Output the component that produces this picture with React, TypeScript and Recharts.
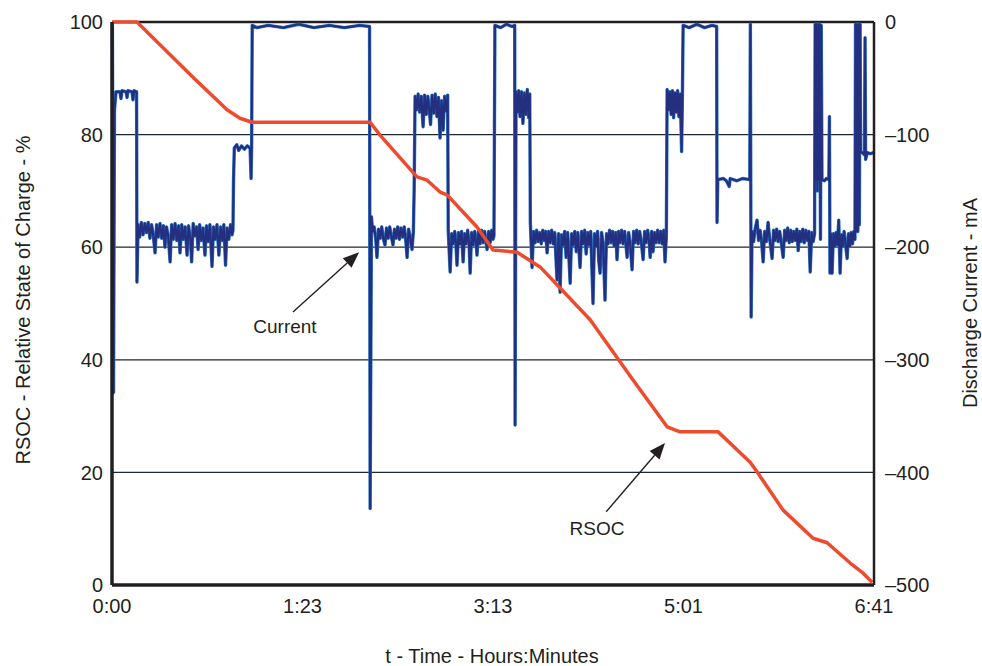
import React from 'react';
import { ComposedChart, Line, XAxis, YAxis, ReferenceLine, ReferenceDot } from 'recharts';

// ---- axes / ticks ----
const xTickValues = [0, 100, 200, 300, 400];
const xTickLabels = ['0:00', '1:23', '3:13', '5:01', '6:41'];
const rsocTicks = [0, 20, 40, 60, 80, 100];
const currentTicks = [-500, -400, -300, -200, -100, 0];
const gridLevels = [20, 40, 60, 80];

// ---- RSOC (%) : [time position, value] ----
const rsocTrace: [number, number][] = [
  [0, 100], [13.1, 100], [42.5, 90.2], [60.4, 84.4], [67.2, 82.9], [73.5, 82.2],
  [135.5, 82.2], [140.7, 79.9], [160.1, 72.5], [165.4, 71.9], [172.2, 69.8], [175.9, 69.3],
  [191.6, 63.6], [200, 59.5], [212.6, 59.1], [224.7, 56.5], [251, 47.1], [273.5, 36.4],
  [291.4, 28.1], [298.2, 27.2], [318.2, 27.2], [335, 21.8], [338.6, 20.1], [352.3, 13.3],
  [368, 8.3], [375.4, 7.5], [387.5, 3.9], [394.3, 2.1], [399, 0.5],
];

// ---- Discharge current (mA) : [time position, value] ----
const currentStart: [number, number][] = [
  [0.2, -2], [0.8, -329], [1.3, -78], [2.1, -62], [4.2, -62], [4.7, -68], [5.3, -61], [7.4, -62],
  [7.9, -67], [8.4, -61], [10.5, -62], [11, -69], [11.6, -61], [12.9, -62], [13.1, -231], [13.7, -180],
];
const currentBand1: [number, number][] = [
  [14.5, -191], [15.4, -178], [16.3, -189], [17.2, -179], [18.1, -187], [19, -178], [19.9, -192], [20.8, -180],
  [21.7, -190], [22.6, -205], [23.4, -180], [24.3, -191], [25.2, -179], [26.1, -192], [27, -181], [27.8, -200],
  [28.6, -182], [29.5, -190], [30.5, -213], [31.3, -180], [32.2, -193], [33.1, -179], [34, -194], [34.9, -181],
  [35.7, -205], [36.6, -180], [37.5, -193], [38.4, -182], [39.4, -207], [40.2, -181], [41.1, -192], [41.8, -213],
  [42.6, -179], [43.5, -190], [44.4, -182], [45.2, -202], [46, -180], [46.9, -194], [47.8, -183], [48.8, -207],
  [49.6, -181], [50.5, -195], [51.4, -180], [52.5, -217], [53.3, -182], [54.2, -193], [55.1, -180], [56.1, -207],
  [57, -182], [57.9, -194], [58.7, -180], [59.6, -216], [60.4, -183], [61.3, -193], [62.2, -180], [63, -189],
  [63.5, -185],
];
const currentMid1: [number, number][] = [
  [63.8, -140], [64.2, -112], [65.5, -109], [66.5, -114], [68, -110], [69.5, -113], [71, -110], [72.5, -112],
  [73, -139], [73.3, -111], [73.6, -3], [76, -5], [82, -3], [90, -5], [98, -2], [106, -5], [114, -3],
  [122, -5], [130, -3], [135.2, -4], [135.5, -432], [136.2, -173], [136.8, -186],
];
const currentBand2: [number, number][] = [
  [137.6, -182], [138.4, -192], [139.1, -209], [139.9, -184], [140.8, -192], [141.6, -182], [142.5, -193],
  [143.3, -198], [144.1, -183], [145, -192], [145.8, -182], [146.7, -191], [147.5, -198], [148.3, -184],
  [149.2, -192], [150, -182], [150.9, -193], [151.7, -183], [152.6, -191], [153.4, -182], [154.2, -194],
  [154.9, -209], [155.7, -184], [156.6, -192], [157.5, -202], [158.2, -186],
];
const currentBand3: [number, number][] = [
  [158.6, -150], [159.1, -66], [159.9, -78], [160.7, -64], [161.5, -80], [162.4, -66], [163.3, -93], [164.1, -65],
  [165, -82], [165.8, -66], [166.6, -79], [167.2, -91], [168, -65], [168.9, -81], [169.7, -64], [170.6, -84],
  [171.4, -67], [172.2, -103], [173, -70], [173.8, -96], [174.6, -66], [175.5, -79], [176.2, -65], [176.5, -185],
];
const currentBand4: [number, number][] = [
  [177.5, -222], [178.3, -188], [179.1, -197], [179.9, -186], [180.5, -196], [181.1, -216], [181.9, -187],
  [182.7, -197], [183.5, -186], [184.3, -213], [185.1, -188], [185.9, -197], [186.7, -185], [187.4, -196],
  [188, -223], [188.8, -187], [189.6, -198], [190.4, -186], [191.1, -196], [191.6, -207], [192.4, -186],
  [193.2, -197], [194, -185], [194.8, -196], [195.6, -186], [196.4, -197], [196.9, -202], [197.7, -186],
  [198.5, -196], [199.3, -185], [200, -193], [200.5, -190],
];
const currentMid2: [number, number][] = [
  [201, -3], [204, -5], [207, -2], [210, -4], [211.4, -3], [211.6, -358], [212.1, -62],
  [212.8, -80], [213.5, -61], [214.2, -84], [215, -62], [215.7, -90], [216.5, -63], [217.2, -82], [218, -60],
  [218.7, -85], [219.3, -64], [219.6, -178],
];
const currentBand6: [number, number][] = [
  [220.5, -218], [221.3, -186], [222.1, -196], [222.9, -185], [223.7, -195], [224.5, -187], [225.3, -197],
  [226.1, -185], [226.9, -194], [227.6, -186], [228.4, -205], [229.2, -186], [230, -196], [230.8, -185],
  [231.6, -197], [232.4, -187], [233.6, -229], [234.4, -188], [235.2, -240], [236, -189], [236.8, -198],
  [237.6, -186], [238.4, -209], [239.2, -187], [240.5, -232], [241.3, -188], [242.1, -198], [242.9, -186],
  [243.7, -204], [244.5, -187], [245.7, -218], [246.5, -186], [247.3, -197], [248.1, -185], [248.9, -206],
  [249.7, -187], [250.5, -198], [251.3, -186], [252.5, -250], [253.3, -188], [254.1, -199], [254.9, -186],
  [255.5, -212], [256.2, -223], [257, -187], [257.8, -197], [258.8, -247], [259.6, -188], [260.4, -197],
  [261.2, -185], [262, -196], [262.8, -186], [263.6, -199], [264.4, -187], [265.1, -211], [265.9, -186],
  [266.7, -196], [267.5, -185], [268.3, -197], [269.1, -186], [270.4, -209], [271.2, -187], [272, -197],
  [273, -220], [273.8, -186], [274.6, -196], [275.4, -185], [276.2, -197], [277, -186], [277.8, -195],
  [278.8, -211], [279.6, -186], [280.4, -196], [281.2, -185], [282, -196], [282.5, -209], [283.3, -186],
  [284, -204], [284.8, -187], [285.6, -196], [286.4, -185], [287.2, -196], [288, -186], [288.8, -197],
  [289.6, -185], [290.3, -213], [291, -190],
];
const currentMid3: [number, number][] = [
  [291.4, -60], [292.1, -78], [292.8, -62], [293.5, -82], [294.2, -61], [294.8, -85], [295.5, -63], [296.2, -80],
  [296.9, -61], [297.6, -84], [298.3, -64], [299, -115], [299.4, -70], [299.8, -3],
  [303, -5], [307, -2], [311, -5], [315, -3], [317.4, -4], [317.6, -178], [318, -140],
  [321, -139], [322.5, -141], [324, -146], [324.5, -139], [328, -141], [331, -139], [334.8, -140],
  [335.1, -2], [335.5, -262], [336, -186],
];
const currentBand8: [number, number][] = [
  [336.8, -195], [337.6, -184], [338.6, -176], [339.4, -194], [340.2, -185], [341, -195], [341.8, -213],
  [342.6, -186], [343.5, -195], [344.4, -178], [345.2, -192], [346.5, -210], [347.3, -185], [348.1, -194],
  [348.9, -184], [349.7, -195], [350.5, -186], [351.3, -196], [352.3, -209], [353.1, -185], [353.9, -194],
  [354.7, -183], [355.5, -196], [356.3, -185], [357.1, -195], [357.9, -186], [358.7, -194], [359.5, -184],
  [360.2, -203], [361, -186], [361.8, -195], [362.6, -184], [363.4, -196], [364.2, -185], [365, -194],
  [365.8, -186], [366.5, -222], [367.3, -187], [368.1, -195], [368.8, -188],
];
const currentEnd: [number, number][] = [
  [369.1, -2], [369.5, -140], [369.9, -2], [370.3, -150], [370.7, -2], [371.1, -140], [371.5, -2], [371.9, -193],
  [372.3, -3], [372.7, -140], [374, -141], [375, -139], [376.3, -140], [376.6, -84], [376.9, -223], [377.3, -188],
  [378, -223], [378.7, -188], [379.4, -199], [380.1, -187], [380.8, -198], [381.5, -176], [382.2, -223],
  [382.9, -189], [383.6, -199], [384.3, -186], [385.1, -198], [385.9, -210], [386.6, -188], [387.3, -199],
  [388, -187], [388.7, -197], [389.4, -186], [390, -193],
  [390.3, -2], [390.7, -186], [391.1, -2], [391.5, -186], [391.9, -2], [392.3, -180], [392.7, -2], [393, -116],
  [394, -116], [395, -118], [395.3, -14], [395.6, -122], [396.5, -116], [398, -117], [399.6, -116],
];

// ---- annotations ----
const currentArrow = [{ x: 95, y: 48.5 }, { x: 129.7, y: 59.1 }];
const rsocArrow = [{ x: 259.4, y: 13 }, { x: 290.3, y: 25.2 }];
const currentLabelPos = { x: 90.8, y: 46, text: 'Current' };
const rsocLabelPos = { x: 254.6, y: 10.1, text: 'RSOC' };

const rsocData = rsocTrace.map(([t, v]) => ({ t, rsoc: v }));
const currentData = [
  ...currentStart, ...currentBand1, ...currentMid1, ...currentBand2, ...currentBand3, ...currentBand4,
  ...currentMid2, ...currentBand6, ...currentMid3, ...currentBand8, ...currentEnd,
].map(([t, v]) => ({ t, current: v }));

const INK = '#231f20';
const FONT = '"Liberation Sans", Arial, sans-serif';
const tickStyle = { fill: INK, fontSize: 20, fontFamily: FONT };

const Arrow = (props: any) => {
  const { x1, y1, x2, y2 } = props;
  const dx = x2 - x1;
  const dy = y2 - y1;
  const len = Math.hypot(dx, dy) || 1;
  const ux = dx / len;
  const uy = dy / len;
  const L = 16;
  const W = 6.5;
  const bx = x2 - ux * L;
  const by = y2 - uy * L;
  const pts = `${x2},${y2} ${bx - uy * W},${by + ux * W} ${bx + uy * W},${by - ux * W}`;
  return (
    <g>
      <line x1={x1} y1={y1} x2={bx} y2={by} stroke={INK} strokeWidth={1.4} />
      <polygon points={pts} fill={INK} />
    </g>
  );
};

const makeText = (text: string) => (p: any) => (
  <text x={p.cx} y={p.cy} textAnchor="middle" dominantBaseline="central" fill={INK} fontSize={19} fontFamily={FONT}>
    {text}
  </text>
);

const titleBase: React.CSSProperties = {
  position: 'absolute',
  color: INK,
  fontSize: 20,
  fontFamily: FONT,
  whiteSpace: 'nowrap',
  lineHeight: 1,
};

export default function App() {
  return (
    <div style={{ position: 'absolute', left: 0, top: 0, width: 982, height: 666, background: '#fff' }}>
      <ComposedChart width={982} height={666} margin={{ top: 22, right: 0, bottom: 0, left: 0 }}>
        <XAxis
          dataKey="t"
          type="number"
          domain={[0, 400]}
          ticks={xTickValues}
          tickFormatter={(v: number) => xTickLabels[xTickValues.indexOf(v)] ?? ''}
          tickLine={false}
          tickMargin={8}
          axisLine={{ stroke: INK, strokeWidth: 3.5 }}
          tick={tickStyle}
          height={81}
          interval={0}
          allowDuplicatedCategory={false}
        />
        <YAxis
          yAxisId="left"
          orientation="left"
          type="number"
          domain={[0, 100]}
          ticks={rsocTicks}
          tickLine={false}
          tickMargin={3}
          axisLine={{ stroke: INK, strokeWidth: 3.5 }}
          tick={tickStyle}
          width={112}
          interval={0}
        />
        <YAxis
          yAxisId="right"
          orientation="right"
          type="number"
          domain={[-500, 0]}
          ticks={currentTicks}
          tickFormatter={(v: number) => String(v).replace('-', '\u2013')}
          tickLine={false}
          tickMargin={5}
          axisLine={{ stroke: INK, strokeWidth: 2.5 }}
          tick={{ ...tickStyle, textAnchor: 'start' }}
          width={108}
          interval={0}
        />
        {gridLevels.map((g) => (
          <ReferenceLine key={g} yAxisId="left" y={g} stroke="#1c2730" strokeWidth={1.3} />
        ))}
        <ReferenceLine yAxisId="left" y={100} stroke={INK} strokeWidth={2.5} />
        <Line
          yAxisId="right"
          data={currentData}
          dataKey="current"
          type="linear"
          stroke="#2a78c8"
          strokeWidth={3.4}
          dot={false}
          isAnimationActive={false}
          strokeLinejoin="round"
        />
        <Line
          yAxisId="right"
          data={currentData}
          dataKey="current"
          type="linear"
          stroke="#24307f"
          strokeWidth={2.2}
          dot={false}
          isAnimationActive={false}
          strokeLinejoin="round"
        />
        <Line
          yAxisId="left"
          data={rsocData}
          dataKey="rsoc"
          type="linear"
          stroke="#ee4a2c"
          strokeWidth={3.5}
          dot={false}
          isAnimationActive={false}
          strokeLinejoin="round"
        />
        <ReferenceLine yAxisId="left" segment={currentArrow} shape={Arrow} />
        <ReferenceLine yAxisId="left" segment={rsocArrow} shape={Arrow} />
        <ReferenceDot yAxisId="left" x={currentLabelPos.x} y={currentLabelPos.y} r={0} shape={makeText(currentLabelPos.text)} />
        <ReferenceDot yAxisId="left" x={rsocLabelPos.x} y={rsocLabelPos.y} r={0} shape={makeText(rsocLabelPos.text)} />
      </ComposedChart>
      <div style={{ ...titleBase, left: 23, top: 300, transform: 'translate(-50%, -50%) rotate(-90deg)' }}>
        RSOC - Relative State of Charge - %
      </div>
      <div style={{ ...titleBase, left: 970, top: 303, transform: 'translate(-50%, -50%) rotate(-90deg)' }}>
        Discharge Current - mA
      </div>
      <div style={{ ...titleBase, left: 492, top: 656, transform: 'translate(-50%, -50%)' }}>
        t - Time - Hours:Minutes
      </div>
    </div>
  );
}
